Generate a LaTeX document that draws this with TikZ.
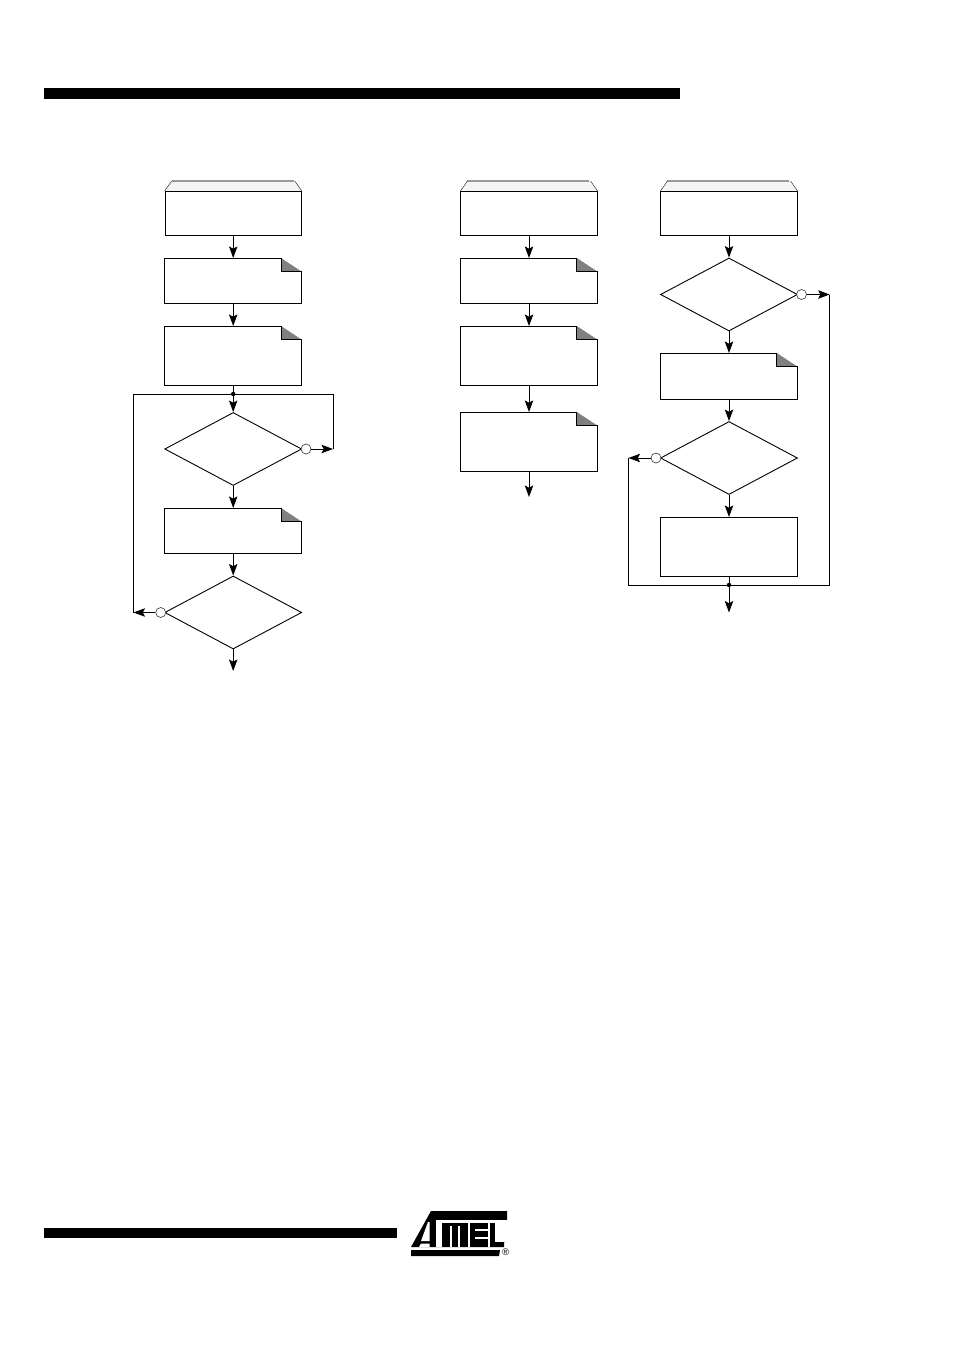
\documentclass[tikz,border=0pt]{standalone}
\usepackage{fontspec}
\setmainfont{Liberation Sans}
\usetikzlibrary{arrows.meta,shapes.geometric,calc}
\definecolor{foldgray}{gray}{0.5}
\definecolor{capfill}{gray}{0.96}
\definecolor{capedge}{gray}{0.6}
\tikzset{
  x=1pt,y=-1pt,
  ln/.style={line width=0.9pt,black},
  flow/.style={ln,-{Stealth[length=11.5pt,width=8.4pt,inset=2.2pt]}},
  plainbox/.style={ln,draw,rectangle,inner sep=0pt,minimum width=136.2pt,anchor=north},
  docbox/.style={rectangle,inner sep=0pt,minimum width=136.2pt,anchor=north},
  decide/.style={ln,draw,diamond,inner sep=0pt,minimum width=137pt,minimum height=73pt,aspect=1.877},
  negate/.style={circle,draw=black!75,line width=0.65pt,fill=white,inner sep=0pt,minimum size=10pt},
  dotnode/.style={circle,fill=black,inner sep=0pt,minimum size=4.4pt},
  bar/.style={fill=black,draw=none},
  logoink/.style={fill=black,draw=none},
  logocut/.style={fill=white,draw=none}
}
\newcommand{\startcap}[1]{%
  \fill[capfill] (#1.north west) -- ++(7,-10) -- ++(123,0) -- (#1.north east) -- cycle;
  \draw[capedge,line width=1.1pt] ($(#1.north west)+(7,-10)$) -- ++(122,0);
  \draw[black!80,line width=0.5pt] (#1.north west) -- ++(7,-10) (#1.north east) -- ++(-7,-10);
}
\newcommand{\docshape}[1]{%
  \fill[foldgray] ($(#1.north east)+(-20.5,0)$) -- ($(#1.north east)+(0,13.5)$) -- ($(#1.north east)+(-20.5,13.5)$) -- cycle;
  \draw[ln,line join=miter] (#1.north west) -- ($(#1.north east)+(-20.5,0)$) -- ++(0,13.5) -- ++(20.5,0) -- (#1.south east) -- (#1.south west) -- cycle;
}
\begin{document}
\begin{tikzpicture}
\useasboundingbox (0,0) rectangle (954,1351);
% header and footer bars
\fill[bar] (44,88) rectangle (680,99);
\fill[bar] (44,1228) rectangle (396.5,1238);

% left column
\node[plainbox,minimum height=44pt] (a1) at (233.2,191) {};
\node[docbox,minimum height=44.8pt] (a2) at (233.2,258) {};
\node[docbox,minimum height=59pt] (a3) at (233.2,326) {};
\coordinate (aj) at (233.2,394);
\node[decide] (a4) at (233.2,449) {};
\node[negate] (a4n) at (306,449) {};
\coordinate (a4r) at (333,449);
\coordinate (a4t) at (333,394);
\node[docbox,minimum height=44.8pt] (a5) at (233.2,508) {};
\node[decide] (a6) at (233.2,612.5) {};
\node[negate] (a6n) at (160.7,612.5) {};
\coordinate (a6l) at (133.5,612.5);
\coordinate (a6t) at (133.5,394);
\coordinate (aout) at (233.2,671);
\startcap{a1}\docshape{a2}\docshape{a3}\docshape{a5}
\draw[flow] (a1) -- (a2);
\draw[flow] (a2) -- (a3);
\draw[flow] (a3) -- (a4);
\draw[flow] (a4) -- (a5);
\draw[flow] (a5) -- (a6);
\draw[flow] (a6) -- (aout);
\draw[flow] (a4n) -- (a4r);
\draw[flow] (a6n) -- (a6l);
\draw[ln] (a4r) -- (a4t) -- (a6t) -- (a6l);
\node[dotnode] (ajd) at (aj) {};

% middle column
\node[plainbox,minimum height=44pt] (b1) at (529,191) {};
\node[docbox,minimum height=44.8pt] (b2) at (529,258) {};
\node[docbox,minimum height=59pt] (b3) at (529,326) {};
\node[docbox,minimum height=59pt] (b4) at (529,412) {};
\coordinate (bout) at (529,497);
\startcap{b1}\docshape{b2}\docshape{b3}\docshape{b4}
\draw[flow] (b1) -- (b2);
\draw[flow] (b2) -- (b3);
\draw[flow] (b3) -- (b4);
\draw[flow] (b4) -- (bout);

% right column
\node[plainbox,minimum height=44pt] (c1) at (729,191) {};
\node[decide] (c2) at (729,294.5) {};
\node[negate] (c2n) at (801.5,294.5) {};
\coordinate (c2r) at (829.7,294.5);
\node[docbox,minimum height=46pt] (c3) at (729,353) {};
\node[decide] (c4) at (729,458) {};
\node[negate] (c4n) at (656,458) {};
\coordinate (c4l) at (628.5,458);
\node[plainbox,minimum height=59pt] (c5) at (729,517) {};
\coordinate (cj) at (729,585);
\coordinate (cbl) at (628.5,585);
\coordinate (cbr) at (829.7,585);
\coordinate (cout) at (729,612.5);
\startcap{c1}\docshape{c3}
\draw[flow] (c1) -- (c2);
\draw[flow] (c2) -- (c3);
\draw[flow] (c3) -- (c4);
\draw[flow] (c4) -- (c5);
\draw[ln] (c5) -- (cj);
\draw[flow] (cj) -- (cout);
\draw[flow] (c2n) -- (c2r);
\draw[flow] (c4n) -- (c4l);
\draw[ln] (c2r) -- (cbr) -- (cbl) -- (c4l);
\node[dotnode] (cjd) at (cj) {};

% logo
\fill[logoink] (411,1247) -- (431,1211) -- (507,1211) -- (507,1220) -- (505.5,1220) -- (504,1247) -- cycle;
\fill[logocut] (421,1241) -- (428,1222) -- (429.5,1222) -- (429.5,1241) -- cycle;
\fill[logocut] (419,1247) -- (421,1243.5) -- (429.5,1243.5) -- (429.5,1247) -- cycle;
\fill[logocut] (436,1220) rectangle (507,1222.6);
\fill[logocut] (436,1222) rectangle (441.7,1247);
\fill[logocut] (449.5,1226) rectangle (451.5,1247);
\fill[logocut] (458,1226) rectangle (460,1247);
\fill[logocut] (468,1222) rectangle (470,1247);
\fill[logocut] (475,1229) rectangle (488,1231);
\fill[logocut] (475,1237) rectangle (488,1239);
\fill[logocut] (488,1222) rectangle (490,1247);
\fill[logocut] (495,1222) rectangle (507,1241.7);
\fill[logocut] (505,1241) rectangle (507,1247);
\fill[logoink] (411,1250) -- (500,1250) -- (499,1256) -- (411,1256) -- cycle;
\node[inner sep=0pt,font=\fontsize{9.5}{9.5}\selectfont] (reg) at (505.5,1252.5) {®};
\end{tikzpicture}
\end{document}
